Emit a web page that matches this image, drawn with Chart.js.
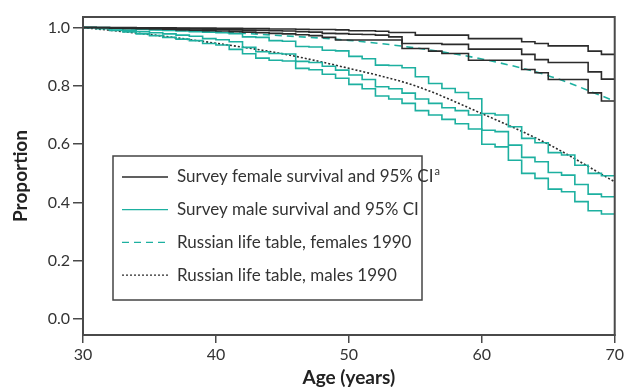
<!DOCTYPE html>
<html>
<head>
<meta charset="utf-8">
<script src="https://cdn.jsdelivr.net/npm/chart.js@4.4.1/dist/chart.umd.min.js"></script>
<style>
  html, body { margin: 0; padding: 0; background: #fff; }
</style>
</head>
<body>
<canvas id="chart" width="626" height="389"></canvas>
<script>
// ---- data ----
const ages = [30, 31, 32, 33, 34, 35, 36, 37, 38, 39, 40, 41, 42, 43, 44, 45, 46, 47, 48, 49,
              50, 51, 52, 53, 54, 55, 56, 57, 58, 59, 60, 61, 62, 63, 64, 65, 66, 67, 68, 69, 70];

const femaleUpper = [1.000, 1.000, 1.000, 1.000, 0.999, 0.999, 0.999, 0.998, 0.998, 0.998, 0.997, 0.997, 0.996, 0.996, 0.995, 0.995, 0.994, 0.993, 0.993, 0.992,
                     0.989, 0.989, 0.987, 0.983, 0.983, 0.974, 0.974, 0.974, 0.974, 0.962, 0.962, 0.962, 0.962, 0.951, 0.945, 0.937, 0.937, 0.937, 0.919, 0.908, 0.908];
const femaleSurv  = [1.000, 1.000, 0.999, 0.999, 0.998, 0.998, 0.997, 0.996, 0.995, 0.994, 0.993, 0.992, 0.991, 0.990, 0.989, 0.988, 0.986, 0.984, 0.980, 0.979,
                     0.977, 0.976, 0.974, 0.968, 0.945, 0.945, 0.945, 0.942, 0.942, 0.926, 0.926, 0.926, 0.926, 0.908, 0.890, 0.880, 0.880, 0.880, 0.848, 0.823, 0.823];
const femaleLower = [1.000, 0.999, 0.998, 0.997, 0.996, 0.995, 0.994, 0.992, 0.991, 0.989, 0.988, 0.986, 0.984, 0.982, 0.980, 0.978, 0.975, 0.972, 0.966, 0.957,
                     0.957, 0.957, 0.957, 0.957, 0.928, 0.928, 0.919, 0.911, 0.911, 0.888, 0.888, 0.888, 0.888, 0.856, 0.845, 0.822, 0.822, 0.822, 0.776, 0.748, 0.748];

const maleUpper = [1.000, 1.000, 0.998, 0.996, 0.994, 0.992, 0.990, 0.988, 0.986, 0.984, 0.982, 0.979, 0.968, 0.966, 0.955, 0.953, 0.935, 0.933, 0.922, 0.920,
                   0.901, 0.893, 0.871, 0.870, 0.862, 0.831, 0.808, 0.791, 0.777, 0.756, 0.705, 0.700, 0.660, 0.620, 0.605, 0.571, 0.563, 0.528, 0.500, 0.492, 0.492];
const maleSurv  = [1.000, 0.998, 0.995, 0.990, 0.986, 0.982, 0.978, 0.974, 0.970, 0.962, 0.958, 0.951, 0.932, 0.917, 0.911, 0.909, 0.884, 0.880, 0.867, 0.854,
                   0.837, 0.822, 0.797, 0.790, 0.775, 0.755, 0.740, 0.725, 0.715, 0.700, 0.648, 0.643, 0.597, 0.555, 0.540, 0.503, 0.494, 0.462, 0.429, 0.420, 0.420];
const maleLower = [1.000, 0.996, 0.990, 0.985, 0.978, 0.972, 0.966, 0.960, 0.955, 0.945, 0.940, 0.925, 0.910, 0.895, 0.888, 0.885, 0.860, 0.855, 0.840, 0.826,
                   0.805, 0.790, 0.765, 0.755, 0.740, 0.715, 0.700, 0.685, 0.670, 0.652, 0.600, 0.591, 0.545, 0.500, 0.483, 0.446, 0.437, 0.403, 0.372, 0.361, 0.361];

// Russian life tables 1990
const lifeAges = [30, 35, 40, 45, 50, 55, 60, 65, 70];
const lifeFemale = [1.000, 0.994, 0.985, 0.972, 0.956, 0.930, 0.892, 0.835, 0.748];
const lifeMale   = [1.000, 0.976, 0.946, 0.910, 0.860, 0.800, 0.705, 0.600, 0.471];

const xTicks = [30, 40, 50, 60, 70];
const yTicks = [0.0, 0.2, 0.4, 0.6, 0.8, 1.0];

const legendLabels = [
    'Survey female survival and 95% CI',
    'Survey male survival and 95% CI',
    'Russian life table, females 1990',
    'Russian life table, males 1990'
];

// ---- styles ----
const BLACK = '#2b2b2b';
const TEAL = '#1db0a0';
const AXIS = '#4a4a4a';
const FONT = "'Lato', sans-serif";

const legendStyles = [
    { color: BLACK, dash: [] },
    { color: TEAL, dash: [] },
    { color: TEAL, dash: [7, 5] },
    { color: BLACK, dash: [2, 2] }
];

function pts(xs, ys) {
    return xs.map((x, i) => ({ x: x, y: ys[i] }));
}

function stepSet(values, color) {
    return {
        data: pts(ages, values),
        borderColor: color,
        borderWidth: 1.6,
        pointRadius: 0,
        stepped: 'before',
        fill: false
    };
}

function lifeSet(values, color, dash) {
    return {
        data: pts(lifeAges, values),
        borderColor: color,
        borderWidth: 1.6,
        borderDash: dash,
        pointRadius: 0,
        cubicInterpolationMode: 'monotone',
        fill: false
    };
}

// frame round the plot + legend box
const framePlugin = {
    id: 'frame',
    afterDatasetsDraw(chart) {
        const { ctx, chartArea: a } = chart;
        ctx.save();
        ctx.strokeStyle = AXIS;
        ctx.lineWidth = 2;
        ctx.strokeRect(a.left, a.top, a.right - a.left, a.bottom - a.top);

        // legend
        const bx = a.left + 30, by = a.top + 139, bw = 309, bh = 144;
        ctx.fillStyle = '#fff';
        ctx.fillRect(bx, by, bw, bh);
        ctx.lineWidth = 1.5;
        ctx.strokeStyle = '#444';
        ctx.strokeRect(bx, by, bw, bh);

        ctx.textBaseline = 'middle';
        legendLabels.forEach((label, i) => {
            const y = by + 21 + i * 32.7;
            const st = legendStyles[i];
            ctx.beginPath();
            ctx.setLineDash(st.dash);
            ctx.strokeStyle = st.color;
            ctx.lineWidth = 1.3;
            ctx.moveTo(bx + 9, y);
            ctx.lineTo(bx + 55, y);
            ctx.stroke();
            ctx.setLineDash([]);
            ctx.fillStyle = '#333';
            ctx.font = '17px ' + FONT;
            ctx.fillText(label, bx + 64, y);
            if (i === 0) {
                const w = ctx.measureText(label).width;
                ctx.font = '11px ' + FONT;
                ctx.fillText('a', bx + 65 + w, y - 6);
            }
        });
        ctx.restore();
    }
};

new Chart(document.getElementById('chart'), {
    type: 'line',
    data: {
        datasets: [
            stepSet(femaleUpper, BLACK),
            stepSet(femaleSurv, BLACK),
            stepSet(femaleLower, BLACK),
            stepSet(maleUpper, TEAL),
            stepSet(maleSurv, TEAL),
            stepSet(maleLower, TEAL),
            lifeSet(lifeFemale, TEAL, [7, 5]),
            lifeSet(lifeMale, BLACK, [2, 2])
        ]
    },
    options: {
        responsive: false,
        animation: false,
        devicePixelRatio: 1,
        layout: { padding: { top: 17, right: 10, left: 0, bottom: 0 } },
        plugins: { legend: { display: false }, tooltip: { enabled: false } },
        scales: {
            x: {
                type: 'linear',
                min: 30,
                max: 70,
                afterBuildTicks: s => { s.ticks = xTicks.map(v => ({ value: v })); },
                afterFit: s => { s.height = 54; },
                grid: { drawOnChartArea: false, drawTicks: true, tickLength: 8, color: AXIS, lineWidth: 1.5 },
                border: { display: true, color: AXIS, width: 2 },
                ticks: { color: '#333', font: { family: FONT, size: 16 }, padding: 2, maxRotation: 0 },
                title: { display: true, text: 'Age (years)', color: '#222', font: { family: FONT, size: 19, weight: 'bold' }, padding: { top: 0, bottom: 0 } }
            },
            y: {
                type: 'linear',
                min: -0.054,
                max: 1.036,
                afterBuildTicks: s => { s.ticks = yTicks.map(v => ({ value: v })); },
                afterFit: s => { s.width = 83; },
                grid: { drawOnChartArea: false, drawTicks: true, tickLength: 10, color: AXIS, lineWidth: 1.5 },
                border: { display: true, color: AXIS, width: 2 },
                ticks: { color: '#333', font: { family: FONT, size: 16 }, padding: 3, callback: v => v.toFixed(1) },
                title: { display: true, text: 'Proportion', color: '#222', font: { family: FONT, size: 19, weight: 'bold' }, padding: { top: 9, bottom: 0 } }
            }
        }
    },
    plugins: [framePlugin]
});
</script>
</body>
</html>
